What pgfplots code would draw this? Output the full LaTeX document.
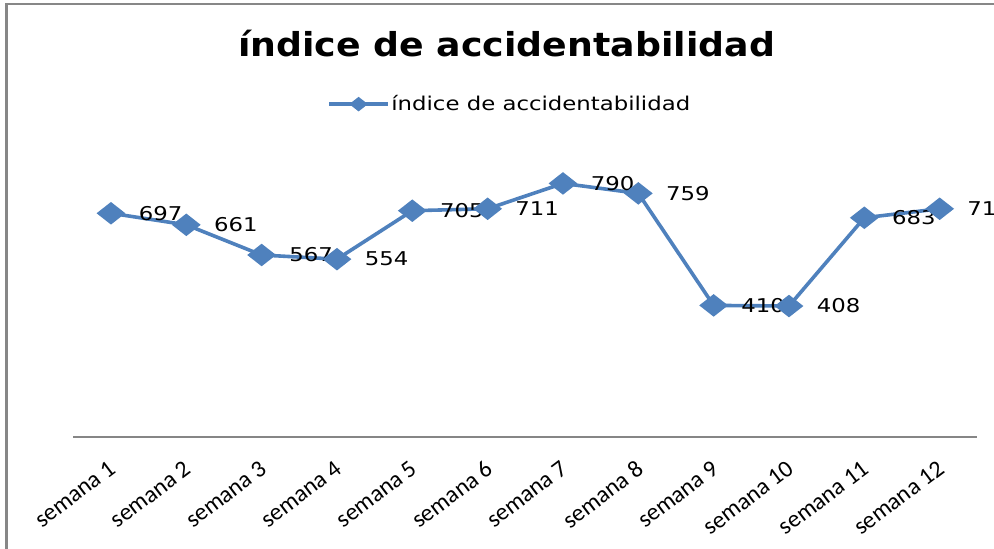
\documentclass[border=0pt]{standalone}
\usepackage{fontspec}
\usepackage{pgfplots}
\pgfplotsset{compat=1.18}
\newfontfamily\titlefont{DejaVu Sans}[FakeStretch=1.1]
\newfontfamily\lblfont{DejaVu Sans}[FakeStretch=1.2]
\newfontfamily\tickfont{Carlito}
\definecolor{exblue}{HTML}{4F81BD}
\definecolor{bordergray}{HTML}{878787}
\definecolor{axisgray}{HTML}{868686}
\begin{document}
\begin{tikzpicture}
\useasboundingbox (0,0) rectangle (497pt,274pt);
\draw[bordergray, line width=1.2pt] (3.25pt,-2pt) -- (3.25pt,272pt) -- (499pt,272pt);
\node[anchor=base, inner sep=0pt, font=\titlefont\bfseries\fontsize{16.5}{18}\selectfont] at (253.25pt,246pt) {índice de accidentabilidad};
\begin{axis}[
  at={(36.65pt,55.5pt)}, anchor=south west,
  scale only axis, width=452pt, height=160.5pt,
  xmin=-0.5, xmax=11.5, ymin=0, ymax=1000,
  axis x line*=bottom, axis y line=none,
  x axis line style={color=axisgray, line width=0.6pt},
  xtick={0,...,11},
  xticklabels={semana 1,semana 2,semana 3,semana 4,semana 5,semana 6,semana 7,semana 8,semana 9,semana 10,semana 11,semana 12},
  major tick length=0pt,
  xticklabel style={font=\tickfont\fontsize{12}{13}\selectfont, xshift=-1.5pt, yshift=-11pt, rotate=37, anchor=north east, inner sep=0pt},
  clip=false,
  /pgf/number format/assume math mode=true,
  nodes near coords,
  nodes near coords style={font=\lblfont\fontsize{9.5}{11}\selectfont, anchor=west, inner sep=0pt, xshift=13pt, text=black},
  legend style={draw=none, fill=none, at={(0.4825,1.037)}, anchor=center,
    font=\lblfont\fontsize{9.5}{11}\selectfont, nodes={inner sep=0.75pt}},
  legend image code/.code={\draw[mark repeat=2,mark phase=2,#1,mark size=2.5pt] plot coordinates {(0pt,0pt) (14.75pt,0pt) (29.5pt,0pt)};},
]
\addplot[exblue, line width=1.8pt, mark=diamond*, mark size=4.5pt, mark options={xscale=1.7, solid, fill=exblue}] coordinates {
(0,697) (1,661) (2,567) (3,554) (4,705) (5,711) (6,790) (7,759) (8,410) (9,408) (10,683) (11,711)};
\legend{índice de accidentabilidad}
\end{axis}
\end{tikzpicture}
\end{document}
